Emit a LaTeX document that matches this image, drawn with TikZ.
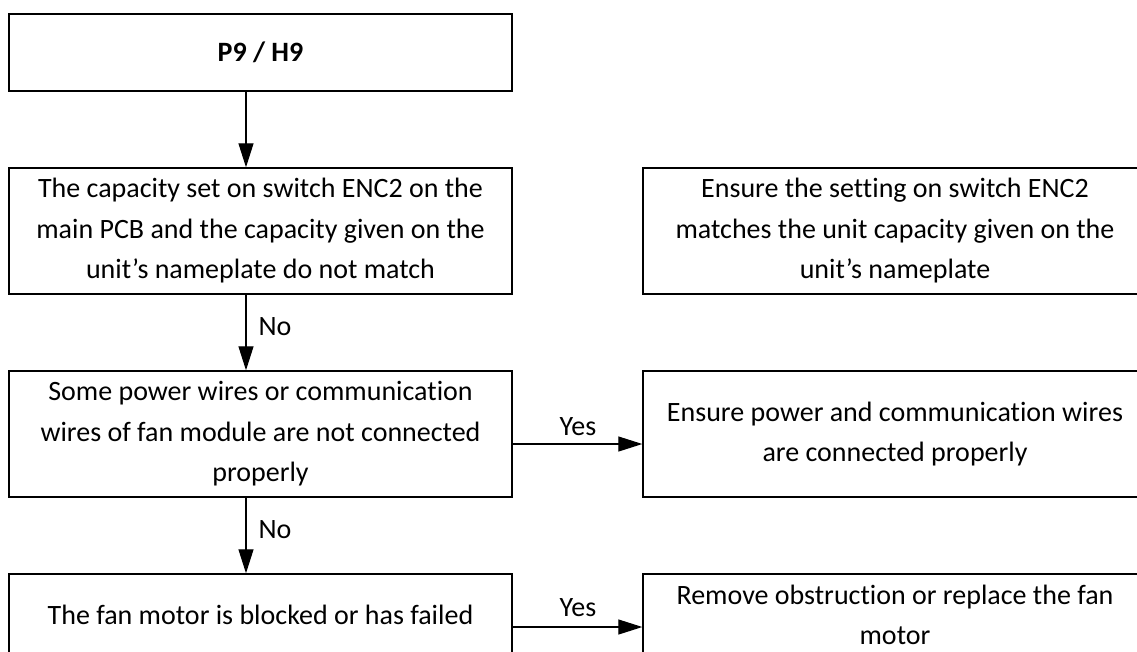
\documentclass[tikz,border=0pt]{standalone}
\usepackage{fontspec}
\setmainfont[Ligatures={NoCommon}]{Carlito}
\usetikzlibrary{arrows.meta}
\begin{document}
\begin{tikzpicture}[x=1pt,y=-1pt,
  box/.style={draw,line width=1.4pt,rectangle,inner sep=0pt,align=center,
    font=\fontsize{28}{40.5}\selectfont},
  arr/.style={line width=1.2pt,-{Triangle[length=24pt,width=15pt]}},
  lbl/.style={font=\fontsize{28}{32}\selectfont,inner sep=0pt}]
\useasboundingbox (0,0) rectangle (1137,651);
\clip (0,0) rectangle (1137,651);
% main column
\node[box,minimum width=503pt,minimum height=77pt] (top) at (260.5,52.5) {\textbf{P9 / H9}};
\node[box,minimum width=503pt,minimum height=126pt] (b2) at (260.5,231)
  {The capacity set on switch ENC2 on the\\main PCB and the capacity given on the\\unit’s nameplate do not match};
\node[box,minimum width=503pt,minimum height=126pt] (b3) at (260.5,434)
  {Some power wires or communication\\wires of fan module are not connected\\properly};
\node[box,minimum width=503pt,minimum height=82pt] (b4) at (260.5,615)
  {The fan motor is blocked or has failed};
% right column
\node[box,minimum width=504pt,minimum height=126pt] (r2) at (895,231)
  {Ensure the setting on switch ENC2\\matches the unit capacity given on the\\unit’s nameplate};
\node[box,minimum width=504pt,minimum height=126pt] (r3) at (895,434)
  {Ensure power and communication wires\\are connected properly};
\node[box,minimum width=504pt,minimum height=82pt] (r4) at (895,615)
  {Remove obstruction or replace the fan\\motor};
% connectors
\coordinate (ax) at (246,0);
\coordinate (y3) at (0,444);
\coordinate (y4) at (0,627);
\draw[arr] (top.south -| ax) -- (b2.north -| ax);
\draw[arr] (b2.south -| ax) -- (b3.north -| ax);
\draw[arr] (b3.south -| ax) -- (b4.north -| ax);
\draw[arr] (b3.east |- y3) -- (r3.west |- y3);
\draw[arr] (b4.east |- y4) -- (r4.west |- y4);
% labels
\node[lbl] (n1) at (275,327) {No};
\node[lbl] (n2) at (275,530) {No};
\node[lbl] (y1) at (578,427) {Yes};
\node[lbl] (y2) at (578,608) {Yes};
\end{tikzpicture}
\end{document}
